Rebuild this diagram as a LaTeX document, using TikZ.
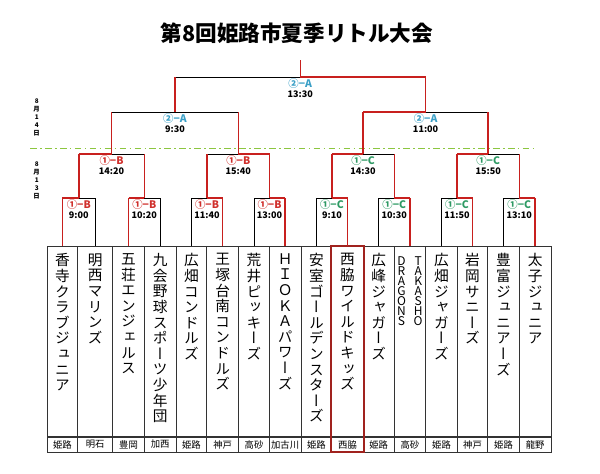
\documentclass[tikz,border=0pt]{standalone}
\usepackage{fontspec}
\setmainfont{Noto Sans CJK JP}
\newfontfamily\jpfont{Noto Sans CJK JP}
\newfontfamily\tatefont[RawFeature=+vert]{Noto Sans CJK JP}
\usetikzlibrary{positioning}
\usetikzlibrary{calc}

\definecolor{cA}{HTML}{3A9FC6}
\definecolor{cB}{HTML}{D0302C}
\definecolor{cC}{HTML}{2E9A64}
\definecolor{winred}{HTML}{C8201E}
\definecolor{champred}{HTML}{A0221E}
\definecolor{dashgreen}{HTML}{8CC63F}

% one character per line
\def\tatestep#1{\ifx#1\relax\else\hbox to 1em{\hss#1\hss}\expandafter\tatestep\fi}
\newcommand\tate[2][11.7pt]{\vbox{\baselineskip=#1\lineskip=0pt\lineskiplimit=-20pt\tatestep#2\relax}}

\newcommand\rA{{\fontsize{7.8}{8}\selectfont\textcolor{cA}{②−A}}}
\newcommand\rB{{\fontsize{7.8}{8}\selectfont\textcolor{cB}{①−B}}}
\newcommand\rC{{\fontsize{7.8}{8}\selectfont\textcolor{cC}{①−C}}}

\begin{document}
\begin{tikzpicture}[x=0.75pt,y=-0.75pt,
	win/.style={draw=winred, line width=1.1pt},
	lose/.style={draw=black, line width=0.5pt},
	teambox/.style={draw=black!80, line width=0.5pt, minimum height=142.5pt, anchor=north, inner sep=0pt},
	citybox/.style={draw=black!80, line width=0.5pt, minimum height=11.25pt, anchor=north, inner sep=0pt, font=\fontsize{7}{8}\selectfont},
	teamname/.style={anchor=north, inner sep=0pt, font=\tatefont\fontsize{11}{12}\selectfont},
	mlabel/.style={align=center, inner sep=0pt, font=\jpfont\bfseries\fontsize{6.8}{7.5}\selectfont},
	datelbl/.style={inner sep=0pt, font=\jpfont\bfseries\fontsize{4.8}{5}\selectfont},
	champ/.style={draw=champred, line width=1.4pt}
	]
	\useasboundingbox (0,0) rectangle (600,474);

	\node[font=\jpfont\bfseries\fontsize{16.2}{20}\selectfont] (title) at (297,33) {第8回姫路市夏季リトル大会};

	\node[datelbl] (d14) at (36.7,117.5) {\tate[6pt]{8月14日}};
	\node[datelbl] (d13) at (36.7,180.8) {\tate[6pt]{8月13日}};
	\draw[dashgreen, line width=0.8pt, dash pattern=on 5pt off 2.5pt on 1.2pt off 2.5pt] (30,148.3) -- (535,148.3);

	% team columns and cities
	\foreach \i/\xl/\xr/\city in {1/47/77.7/姫路, 2/77.7/112.7/明石, 3/112.7/144.3/豊岡, 4/144.3/176/加西,
		5/176/206.7/姫路, 6/206.7/238.7/神戸, 7/238.7/269.3/高砂, 8/269.3/301/加古川,
		9/301/331.7/姫路, 10/331.7/363.3/西脇, 11/363.3/394/姫路, 12/394/425.7/高砂,
		13/425.7/457.3/姫路, 14/457.3/487.7/神戸, 15/487.7/519.3/姫路, 16/519.3/551/龍野}
	{
		\node[teambox, minimum width={(\xr-\xl)*0.75pt}] (t\i) at ({(\xl+\xr)/2},246) {};
		\node[citybox, minimum width={(\xr-\xl)*0.75pt}] (c\i) at (t\i.south) {\city};
	}

	\node[teamname, below=5.5pt of t1.north] (n1) {\tate{香寺クラブジュニア}};
	\node[teamname, below=5.5pt of t2.north] (n2) {\tate{明西マリンズ}};
	\node[teamname, below=5.5pt of t3.north] (n3) {\tate{五荘エンジェルス}};
	\node[teamname, below=5.5pt of t4.north] (n4) {\tate{九会野球スポーツ少年団}};
	\node[teamname, below=5.5pt of t5.north] (n5) {\tate{広畑コンドルズ}};
	\node[teamname, below=5.5pt of t6.north] (n6) {\tate{王塚台南コンドルズ}};
	\node[teamname, below=5.5pt of t7.north] (n7) {\tate{荒井ピッキーズ}};
	\node[teamname, below=5.5pt of t8.north] (n8) {\tate{ＨＩＯＫＡパワーズ}};
	\node[teamname, below=5.5pt of t9.north] (n9) {\tate{安室ゴールデンスターズ}};
	\node[teamname, below=5.5pt of t10.north] (n10) {\tate{西脇ワイルドキッズ}};
	\node[teamname, below=5.5pt of t11.north] (n11) {\tate{広峰ジャガーズ}};
	\node[teamname, below=7.5pt of t12.north, font=\jpfont\fontsize{9}{9}\selectfont] (n12) {\tate[7.5pt]{DRAGONS}\hskip3.5pt\tate[7.5pt]{TAKASHO}};
	\node[teamname, below=5.5pt of t13.north] (n13) {\tate{広畑ジャガーズ}};
	\node[teamname, below=5.5pt of t14.north] (n14) {\tate{岩岡サニーズ}};
	\node[teamname, below=5.5pt of t15.north] (n15) {\tate{豊富ジュニアーズ}};
	\node[teamname, below=5.5pt of t16.north] (n16) {\tate{太子ジュニア}};

	% match points
	\foreach \a/\b/\m in {1/2/1, 3/4/2, 5/6/3, 7/8/4, 9/10/5, 11/12/6, 13/14/7, 15/16/8}
		\coordinate (m\m) at ($(t\a.north)!0.5!(t\b.north)+(0,-48)$);
	\foreach \a/\b/\m in {1/2/9, 3/4/10, 5/6/11, 7/8/12}
		\coordinate (m\m) at ($(m\a)!0.5!(m\b)+(0,-44)$);
	\coordinate (m13) at ($(m9)!0.5!(m10)+(0,-42)$);
	\coordinate (m14) at ($(m11)!0.5!(m12)+(0,-42)$);
	\coordinate (m15) at ($(m13)!0.5!(m14)+(0,-35)$);
	\coordinate (top) at ($(m15)+(0,-17)$);

	\draw[champ] (t10.north west) rectangle (c10.south east);

	\foreach \c/\p/\v/\h in {t1.north/m1/win/win, t2.north/m1/lose/lose,
		t3.north/m2/win/win, t4.north/m2/lose/lose,
		t5.north/m3/lose/lose, t6.north/m3/win/win,
		t7.north/m4/lose/lose, t8.north/m4/win/win,
		t9.north/m5/lose/lose, t10.north/m5/win/win,
		t11.north/m6/lose/lose, t12.north/m6/win/win,
		t13.north/m7/lose/lose, t14.north/m7/win/win,
		t15.north/m8/lose/lose, t16.north/m8/win/win,
		m1/m9/win/win, m2/m9/win/lose,
		m3/m10/win/lose, m4/m10/win/win,
		m5/m11/win/win, m6/m11/win/lose,
		m7/m12/win/win, m8/m12/win/lose,
		m9/m13/win/lose, m10/m13/win/lose,
		m11/m14/win/win, m12/m14/win/lose,
		m13/m15/win/lose, m14/m15/win/win}
	{
		\draw[\h] (\c |- \p) -- (\p);
		\draw[\v] (\c) -- (\c |- \p);
	}
	\draw[win] (m15) -- (top);

	\foreach \m/\lab/\tm in {1/\rB/9:00, 2/\rB/10:20, 3/\rB/11:40, 4/\rB/13:00,
		5/\rC/9:10, 6/\rC/10:30, 7/\rC/11:50, 8/\rC/13:10,
		9/\rB/14:20, 10/\rB/15:40, 11/\rC/14:30, 12/\rC/15:50,
		13/\rA/9:30, 14/\rA/11:00, 15/\rA/13:30}
		\node[mlabel, below=0.8pt of m\m] (l\m) {\lab\\\tm};
\end{tikzpicture}
\end{document}
